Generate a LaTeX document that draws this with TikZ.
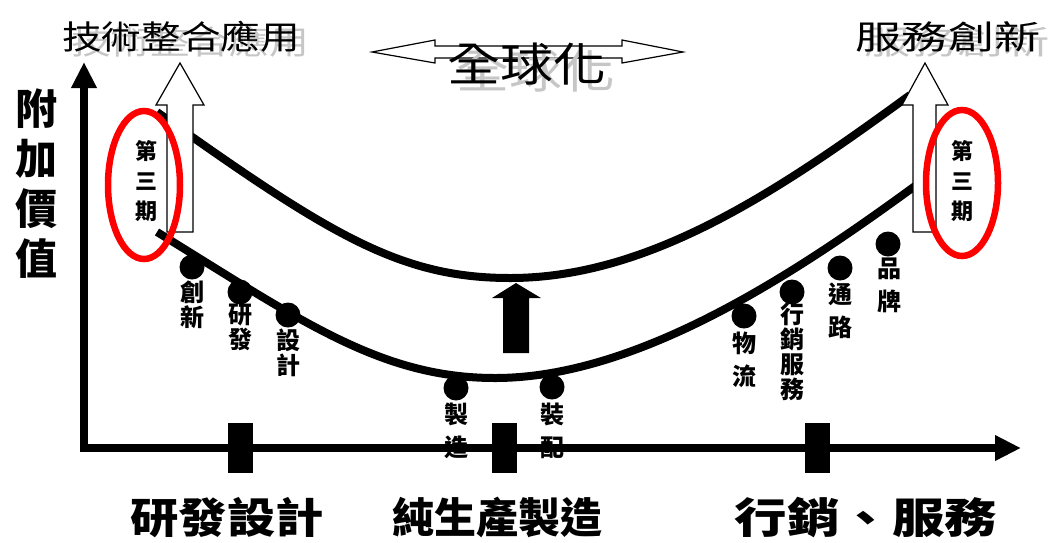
\documentclass[tikz,border=0pt]{standalone}
\usepackage{fontspec}
\newfontfamily\cjk{Noto Sans CJK TC}
\usetikzlibrary{arrows.meta}
\begin{document}
\begin{tikzpicture}[x=1pt,y=-1pt,
  axis/.style={line width=8pt, -{Triangle[length=26pt,width=24pt]}},
  smile/.style={line width=8pt},
  dot/.style={circle, fill=black, inner sep=0pt, minimum size=25pt},
  tick/.style={fill=black, minimum width=25pt, minimum height=50pt, inner sep=0pt},
  vlbl/.style={font=\fontsize{24}{25}\selectfont\cjk\bfseries, align=center, inner sep=0pt},
  vlblw/.style={font=\fontsize{24}{33}\selectfont\cjk\bfseries, align=center, inner sep=0pt},
  phasetxt/.style={font=\fontsize{22}{30}\selectfont\cjk\bfseries, align=center, inner sep=0pt},
  hollow/.style={draw=black, fill=white, line width=1.2pt},
  phase/.style={draw=red, line width=6.5pt},
  shadow/.style={text=gray!45}]
\useasboundingbox (0,0) rectangle (1049,542);
% axes
\coordinate (o) at (84,448);
\coordinate (ytop) at (84,62);
\coordinate (xend) at (1021,448);
\draw[axis] (84,452) -- (ytop);
\draw[axis] (80,448) -- (xend);
\node[tick] (t1) at (240,448) {};
\node[tick] (t2) at (504,448) {};
\node[tick] (t3) at (817,448) {};
% smile curves
\draw[smile] (157,112) .. controls (330,235) and (400,278) .. (510,278)
  .. controls (650,278) and (780,190) .. (910,95);
\draw[smile] (157,232) .. controls (300,320) and (380,378) .. (495,378)
  .. controls (640,378) and (800,270) .. (915,186);
% black up arrow
\fill (503,353) -- (503,298) -- (492,298) -- (516,283) -- (541,298) -- (529,298) -- (529,353) -- cycle;
% dots
\node[dot] (cx) at (192,267) {};
\node[dot] (yf) at (240,292) {};
\node[dot] (sj) at (288,315) {};
\node[dot] (zz) at (456,388) {};
\node[dot] (zp) at (552,387) {};
\node[dot] (wl) at (744,316) {};
\node[dot] (xx) at (792,292) {};
\node[dot] (tl) at (840,268) {};
\node[dot] (pp) at (888,244) {};
\node[vlbl] at (192,305) {創\\新};
\node[vlbl] at (240,327) {研\\發};
\node[vlbl] at (288,353) {設\\計};
\node[vlblw] at (456,431) {製\\造};
\node[vlblw] at (552,431) {裝\\配};
\node[vlblw] at (744,360) {物\\流};
\node[vlbl] at (792,352) {行\\銷\\服\\務};
\node[vlblw] at (840,311) {通\\路};
\node[vlblw] at (889,285) {品\\牌};
% hollow arrows
\draw[hollow] (167,232) -- (167,105) -- (156,105) -- (180,63) -- (204,105) -- (193,105) -- (193,232) -- cycle;
\draw[hollow] (913,232) -- (913,105) -- (902,105) -- (925,63) -- (948,105) -- (936,105) -- (936,232) -- cycle;
\draw[hollow] (372,52) -- (435,40) -- (435,46) -- (622,46) -- (622,40) -- (683,52)
  -- (622,63) -- (622,58) -- (435,58) -- (435,63) -- cycle;
% third phase
\draw[phase] (144,185) ellipse[x radius=36, y radius=74];
\draw[phase] (962,183) ellipse[x radius=36, y radius=73];
\node[phasetxt] (p1) at (146,181) {第\\三\\期};
\node[phasetxt] (p2) at (962,181) {第\\三\\期};
% titles
\node[shadow, font=\fontsize{33}{33}\selectfont\cjk] at (190,42) {\scalebox{1.2}[1]{技術整合應用}};
\node[font=\fontsize{33}{33}\selectfont\cjk] (tech) at (181,37) {\scalebox{1.2}[1]{技術整合應用}};
\node[shadow, font=\fontsize{33}{33}\selectfont\cjk] at (957,42) {\scalebox{1.4}[1]{服務創新}};
\node[font=\fontsize{33}{33}\selectfont\cjk] (serv) at (948,37) {\scalebox{1.4}[1]{服務創新}};
\node[shadow, font=\fontsize{46}{46}\selectfont\cjk] at (536,71) {\scalebox{1.15}[1]{全球化}};
\node[font=\fontsize{46}{46}\selectfont\cjk] (glob) at (527,64) {\scalebox{1.15}[1]{全球化}};
% axis labels
\node[font=\fontsize{42}{50}\selectfont\cjk\bfseries, align=center, inner sep=0pt] (yl) at (37,184) {附\\加\\價\\值};
\node[font=\fontsize{42}{42}\selectfont\cjk\bfseries] (b1) at (227,518) {\scalebox{1.15}[1]{研發設計}};
\node[font=\fontsize{42}{42}\selectfont\cjk\bfseries] (b2) at (497,518) {純生產製造};
\node[font=\fontsize{42}{42}\selectfont\cjk\bfseries] (b3) at (866,518) {\scalebox{1.25}[1]{行銷、服務}};
\end{tikzpicture}
\end{document}
